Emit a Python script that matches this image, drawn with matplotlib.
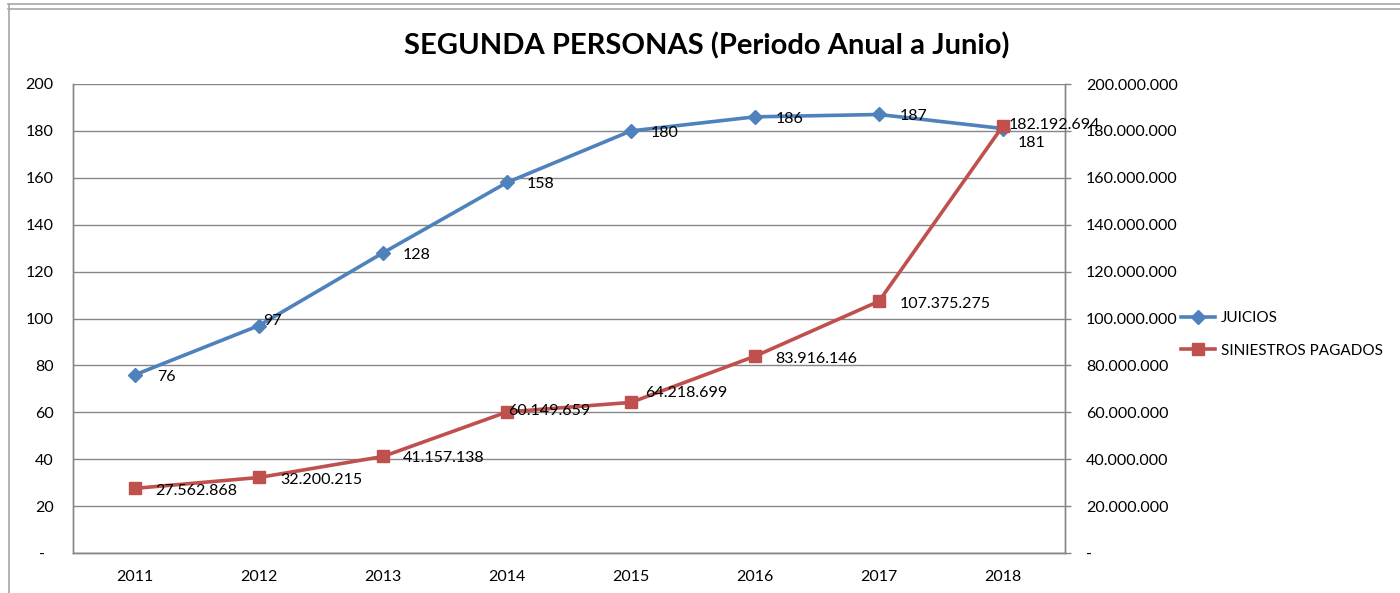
import matplotlib
matplotlib.use("Agg")
import matplotlib.pyplot as plt
from matplotlib.lines import Line2D
from matplotlib.ticker import FuncFormatter, MultipleLocator

years = ["2011", "2012", "2013", "2014", "2015", "2016", "2017", "2018"]
juicios = [76, 97, 128, 158, 180, 186, 187, 181]
siniestros = [27562868, 32200215, 41157138, 60149659, 64218699, 83916146, 107375275, 182192694]
juicios_lbl = [str(v) for v in juicios]
siniestros_lbl = ["27.562.868", "32.200.215", "41.157.138", "60.149.659",
                  "64.218.699", "83.916.146", "107.375.275", "182.192.694"]

# label offsets in pixels (dx, dy)
j_off = [(22, -2), (4, 5), (20, -2), (20, -2), (20, -2), (21, -2), (21, -2), (15, -14)]
s_off = [(20, -3), (21, -3), (20, -2), (1, 1), (14, 9), (20, -3), (21, -3), (6, 1)]

FONT = "Lato"
plt.rcParams['font.family'] = [FONT, 'DejaVu Sans']

W, H = 1400, 593
fig = plt.figure(figsize=(W / 100, H / 100), dpi=100)
fig.patch.set_facecolor("white")

ax = fig.add_axes([73 / W, 1 - 553 / H, (1065 - 73) / W, (553 - 84) / H])
ax2 = ax.twinx()

x = list(range(len(years)))
blue = "#4F81BD"
red = "#C0504D"
grid_c = "#868686"

ax.plot(x, juicios, color=blue, lw=2.6, marker="D", ms=7, mec=blue, mfc=blue,
        label="JUICIOS", zorder=3)
ax2.plot(x, siniestros, color=red, lw=2.6, marker="s", ms=9, mec=red, mfc=red,
         label="SINIESTROS PAGADOS", zorder=3)

ax.set_xlim(-0.5, len(years) - 0.5)
ax.set_ylim(0, 200)
ax2.set_ylim(0, 200000000)
ax.yaxis.set_major_locator(MultipleLocator(20))
ax2.yaxis.set_major_locator(MultipleLocator(20000000))

ax.yaxis.set_major_formatter(FuncFormatter(lambda v, p: "-  " if v == 0 else f"{int(v)}"))
ax2.yaxis.set_major_formatter(FuncFormatter(
    lambda v, p: "-" if v == 0 else f"{int(v):,}".replace(",", ".")))

ax.set_xticks(x)
ax.set_xticklabels(years)

ax.grid(axis="y", color=grid_c, lw=1)
ax.set_axisbelow(True)

for a in (ax, ax2):
    for s in a.spines.values():
        s.set_color(grid_c)
        s.set_linewidth(1)
    a.spines["top"].set_visible(False)

FS = 11.5
ax.tick_params(axis="y", length=0, pad=14, labelsize=FS, labelcolor="#000000")
ax.tick_params(axis="x", length=0, pad=12, labelsize=FS, labelcolor="#000000")
ax2.tick_params(axis="y", length=4, width=1, color=grid_c, pad=11, labelsize=FS,
                labelcolor="#000000")

for i, (v, t, (dx, dy)) in enumerate(zip(juicios, juicios_lbl, j_off)):
    ax.annotate(t, (i, v), xytext=(dx, dy), textcoords="offset pixels",
                ha="left", va="center", fontsize=FS, color="#000000", zorder=5)
for i, (v, t, (dx, dy)) in enumerate(zip(siniestros, siniestros_lbl, s_off)):
    ax2.annotate(t, (i, v), xytext=(dx, dy), textcoords="offset pixels",
                 ha="left", va="center", fontsize=FS, color="#000000", zorder=5)

fig.text(707 / W, 1 - 46 / H, "SEGUNDA PERSONAS (Periodo Anual a Junio)",
         ha="center", va="center", fontsize=21, fontweight="bold", color="#000000")

h1, l1 = ax.get_legend_handles_labels()
h2, l2 = ax2.get_legend_handles_labels()
fig.legend(h1 + h2, l1 + l2, loc="center left", bbox_to_anchor=(1175 / W, 1 - 334.5 / H),
           frameon=False, fontsize=11, handlelength=2.2, handletextpad=0.4,
           labelspacing=1.2, borderaxespad=0)

# outer frame lines
lc = "#A6A6A6"
fig.add_artist(Line2D([8 / W, 1], [1 - 3.5 / H, 1 - 3.5 / H], color=lc, lw=1.2,
                      transform=fig.transFigure))
fig.add_artist(Line2D([8 / W, 1], [1 - 8.5 / H, 1 - 8.5 / H], color=lc, lw=1.2,
                      transform=fig.transFigure))
fig.add_artist(Line2D([8.5 / W, 8.5 / W], [0, 1 - 3.5 / H], color=lc, lw=1.2,
                      transform=fig.transFigure))

fig.savefig("out.png", dpi=100, facecolor="white")
